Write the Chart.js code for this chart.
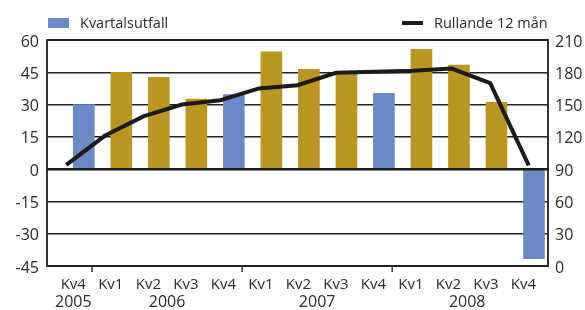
<!DOCTYPE html>
<html>
<head>
<meta charset="utf-8">
<script src="https://cdn.jsdelivr.net/npm/chart.js@4/dist/chart.umd.min.js"></script>
<style>
html,body{margin:0;padding:0;background:#fff;}
#wrap{width:585px;height:310px;position:relative;}
</style>
</head>
<body>
<div id="wrap"><canvas id="c" width="585" height="310"></canvas></div>
<script>
// ---- data ----
const quarters = ['Kv4','Kv1','Kv2','Kv3','Kv4','Kv1','Kv2','Kv3','Kv4','Kv1','Kv2','Kv3','Kv4'];
const quarterYears = ['2005','2006','2006','2006','2006','2007','2007','2007','2007','2008','2008','2008','2008'];
const quarterlyResult = [30, 45, 42.7, 32.5, 34.7, 54.5, 46.4, 44.5, 35.2, 55.7, 48.3, 31, -41.6];
const rolling12 = [94, 121, 139, 150, 154, 165, 168, 179.5, 180.5, 181.5, 183.5, 170, 93.5];
const leftTicks = [-45, -30, -15, 0, 15, 30, 45, 60];
const rightTicks = [0, 30, 60, 90, 120, 150, 180, 210];
const seriesNames = ['Kvartalsutfall', 'Rullande 12 mån'];

const BLUE = '#6b8ac6', GOLD = '#bb9623', LINE = '#1c1a1a', TEXT = '#2a2a2a';
const FONT = "'Open Sans', 'Noto Sans', sans-serif";

const years = [...new Set(quarterYears)];

const extras = {
  id: 'extras',
  afterDatasetsDraw(chart) {
    const ctx = chart.ctx, y = chart.scales.y, a = chart.chartArea;
    ctx.save();
    ctx.strokeStyle = '#1a1a1a';
    ctx.lineWidth = 2.5;
    const y0 = y.getPixelForValue(0);
    ctx.beginPath(); ctx.moveTo(a.left, y0); ctx.lineTo(a.right, y0); ctx.stroke();
    ctx.restore();
  },
  afterDraw(chart) {
    const ctx = chart.ctx, xb = chart.scales.xb, a = chart.chartArea;
    ctx.save();
    // year boundary tick marks
    ctx.strokeStyle = '#333'; ctx.lineWidth = 1.5;
    for (let i = 1; i < quarterYears.length; i++) {
      if (quarterYears[i] !== quarterYears[i-1]) {
        const px = xb.getPixelForValue(i - 0.5);
        ctx.beginPath(); ctx.moveTo(px, a.bottom); ctx.lineTo(px, a.bottom + 6); ctx.stroke();
      }
    }
    // year labels
    ctx.fillStyle = TEXT; ctx.font = "16px " + FONT;
    ctx.textAlign = 'center'; ctx.textBaseline = 'middle';
    years.forEach(yr => {
      const idx = quarterYears.map((q,i)=>q===yr?i:-1).filter(i=>i>=0);
      const mid = idx.reduce((s,v)=>s+v,0)/idx.length;
      ctx.fillText(yr, xb.getPixelForValue(mid), 302.5);
    });
    // legend
    ctx.font = "14.5px " + FONT; ctx.textAlign = 'left';
    ctx.fillStyle = BLUE; ctx.fillRect(48, 18, 21, 10);
    ctx.fillStyle = TEXT; ctx.fillText(seriesNames[0], 80, 23.5);
    ctx.strokeStyle = LINE; ctx.lineWidth = 4;
    ctx.beginPath(); ctx.moveTo(402, 23); ctx.lineTo(423, 23); ctx.stroke();
    ctx.fillStyle = TEXT; ctx.fillText(seriesNames[1], 434, 23.5);
    ctx.restore();
  }
};

// shift y tick labels slightly below their grid lines (two-line label trick)
const shiftDown = v => ['', String(v)];

new Chart(document.getElementById('c'), {
  data: {
    labels: quarters,
    datasets: [
      {
        type: 'line', label: seriesNames[1], data: rolling12,
        xAxisID: 'x', yAxisID: 'y2', order: 0,
        borderColor: LINE, borderWidth: 4, pointRadius: 0, tension: 0,
        borderCapStyle: 'butt', borderJoinStyle: 'miter'
      },
      {
        type: 'bar', label: seriesNames[0],
        data: quarterlyResult.map((v,i)=>({x:i, y:v})),
        xAxisID: 'xb', yAxisID: 'y', order: 1,
        backgroundColor: quarters.map(q => q === 'Kv4' ? BLUE : GOLD),
        barThickness: 21, borderWidth: 0
      }
    ]
  },
  options: {
    responsive: false, animation: false,
    layout: { padding: { left: 0, right: 0, top: 40, bottom: 0 } },
    plugins: { legend: { display: false }, tooltip: { enabled: false } },
    scales: {
      x: { type: 'category', offset: true, display: false },
      xb: {
        type: 'linear', position: 'bottom', min: -0.701, max: 12.653, offset: false,
        afterBuildTicks: s => { s.ticks = quarters.map((q,i)=>({value:i})); },
        afterFit: s => { s.height = 44; },
        grid: { display: false, offset: false }, border: { display: false },
        ticks: {
          autoSkip: false, maxRotation: 0, padding: 2,
          color: TEXT, font: { family: FONT, size: 15 },
          callback: (v, i) => quarters[i]
        }
      },
      y: {
        position: 'left', min: -45, max: 60,
        afterBuildTicks: s => { s.ticks = leftTicks.map(v=>({value:v})); },
        afterFit: s => { s.width = 47; },
        grid: { drawTicks: false, color: '#222', lineWidth: c => (c.tick && (c.tick.value === 60 || c.tick.value === -45)) ? 2 : 1.5 },
        border: { display: true, color: '#333', width: 2 },
        ticks: { padding: 8, color: TEXT, font: { family: FONT, size: 16, lineHeight: '4px' }, callback: v => shiftDown(v) }
      },
      y2: {
        position: 'right', min: 0, max: 210,
        afterBuildTicks: s => { s.ticks = rightTicks.map(v=>({value:v})); },
        afterFit: s => { s.width = 37; },
        grid: { display: false, drawTicks: false },
        border: { display: true, color: '#333', width: 2 },
        ticks: { padding: 7, color: TEXT, font: { family: FONT, size: 16, lineHeight: '4px' }, callback: v => shiftDown(v) }
      }
    }
  },
  plugins: [extras]
});
</script>
</body>
</html>
